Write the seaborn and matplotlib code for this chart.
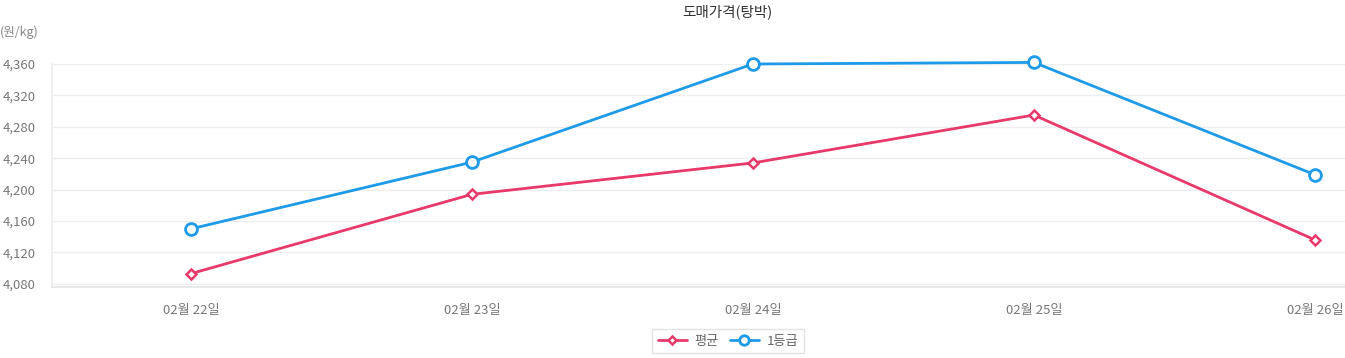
import matplotlib
matplotlib.use("Agg")
import matplotlib.pyplot as plt
import seaborn as sns
import pandas as pd
from matplotlib.ticker import FuncFormatter

dates = ["02월 22일", "02월 23일", "02월 24일", "02월 25일", "02월 26일"]
avg_price = [4093, 4194, 4234, 4295, 4136]
grade1_price = [4150, 4235, 4360, 4362, 4219]

sns.set_theme(style="white")
plt.rcParams['font.family'] = ['Noto Sans CJK KR', 'DejaVu Sans']

blue = "#1E9BE8"
red = "#E8396B"

fig = plt.figure(figsize=(13.45, 3.58), dpi=100)
W, H = 1345, 358
left, right, top, bottom = 52, 1345, 64, 287
ax = fig.add_axes([left / W, 1 - bottom / H, (right - left) / W, (bottom - top) / H])

df = pd.DataFrame({"x": list(range(len(dates))) * 2,
                   "price": avg_price + grade1_price,
                   "series": ["평균"] * len(dates) + ["1등급"] * len(dates)})

sns.lineplot(data=df[df.series == "평균"], x="x", y="price", ax=ax, color=red,
             marker="D", markersize=5, markerfacecolor="white", markeredgecolor=red,
             markeredgewidth=1.8, linewidth=2, label="평균", clip_on=False)
sns.lineplot(data=df[df.series == "1등급"], x="x", y="price", ax=ax, color=blue,
             marker="o", markersize=8.5, markerfacecolor="white", markeredgecolor=blue,
             markeredgewidth=2, linewidth=2, label="1등급", clip_on=False)

ax.set_ylim(4076, 4360)
ax.set_xlim(-0.494, 4.107)
ax.set_yticks(range(4080, 4361, 40))
ax.yaxis.set_major_formatter(FuncFormatter(lambda v, p: f"{int(v):,}"))
ax.set_xticks(range(len(dates)))
ax.set_xticklabels(dates)
ax.grid(axis="y", color="#eeeeee", linewidth=1)
ax.set_axisbelow(True)
for s in ["top", "right"]:
    ax.spines[s].set_visible(False)
ax.spines["left"].set_color("#eeeeee")
ax.spines["bottom"].set_color("#e6e6e6")
ax.tick_params(axis="both", length=0, labelsize=9.5, labelcolor="#777777")
ax.tick_params(axis="x", pad=12)
ax.tick_params(axis="y", pad=12)
ax.set_xlabel("")
ax.set_ylabel("")

fig.text(727 / W, 1 - 12 / H, "도매가격(탕박)", ha="center", va="center", fontsize=10.5, color="#333333")
fig.text(0, 1 - 32 / H, "(원/kg)", ha="left", va="center", fontsize=9, color="#888888")

if ax.legend_:
    ax.legend_.remove()
handles, labels = ax.get_legend_handles_labels()
leg = fig.legend(handles, labels, loc="center", bbox_to_anchor=(728 / W, 1 - 341 / H),
                 ncol=2, frameon=True, fontsize=9.5, handlelength=2.2, columnspacing=0.8,
                 handletextpad=0.6, borderpad=0.45, fancybox=False, markerscale=0.8)
leg.get_frame().set_edgecolor("#dddddd")
leg.get_frame().set_linewidth(1)
for t in leg.get_texts():
    t.set_color("#666666")

fig.savefig("out.png", dpi=100)
